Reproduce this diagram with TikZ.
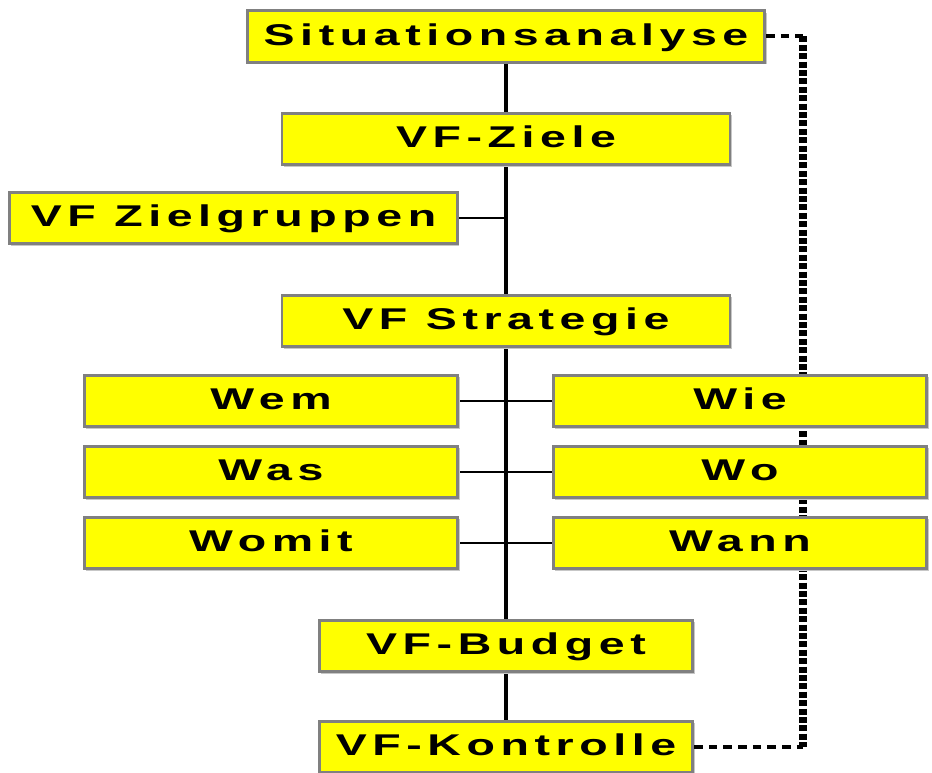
\documentclass[tikz,border=0pt]{standalone}
\usepackage{fontspec}
\newfontfamily\boxfont{Liberation Sans Bold}[LetterSpace=12]
\usetikzlibrary{shadows,backgrounds}
\definecolor{boxgray}{RGB}{128,128,128}
\definecolor{boxfill}{RGB}{255,255,0}
% wide lettering for the box labels
\newcommand\wide[1]{\scalebox{1.55}[1]{#1}}
\tikzset{
  vfbox/.style={draw=boxgray, line width=2.2pt, fill=boxfill, inner sep=0pt,
    minimum height=38.5pt, text height=16.3pt, text depth=3.3pt,
    font=\boxfont\fontsize{22.5}{27}\selectfont,
    drop shadow={shadow xshift=1.4pt, shadow yshift=-1.4pt, fill=black!22, opacity=1}},
  topbox/.style={vfbox, minimum width=388pt},
  midbox/.style={vfbox, minimum width=336pt},
  sidebox/.style={vfbox, minimum width=280pt},
  trunk/.style={line width=3.4pt},
  branch/.style={line width=1.5pt},
  loopflat/.style={line width=3pt, dash pattern=on 6.5pt off 4.5pt},
  loopdown/.style={line width=6pt, dash pattern=on 4.5pt off 1.8pt},
}
\begin{document}
\begin{tikzpicture}[x=0.75pt, y=-0.75pt]
    \useasboundingbox (0,0) rectangle (932,773);

    % main chain
    \node[topbox]  (sit)       at (506,36.5) {\wide{Situationsanalyse}};
    \node[midbox]  (ziele)     at (506,139)  {\wide{VF-Ziele}};
    \node[midbox]  (zielgr)    at (233.5,218) {\wide{VF Zielgruppen}};
    \node[midbox]  (strat)     at (506,321)  {\wide{VF Strategie}};
    \node[sidebox] (budget)    at (506,646)  {\wide{VF-Budget}};
    \node[sidebox] (kontrolle) at (506,747)  {\wide{VF-Kontrolle}};

    % the six W-questions
    \node[sidebox] (wem)   at (271,401) {\wide{Wem}};
    \node[sidebox] (was)   at (271,472) {\wide{Was}};
    \node[sidebox] (womit) at (271,543) {\wide{Womit}};
    \node[sidebox] (wie)   at (740,401) {\wide{Wie}};
    \node[sidebox] (wo)    at (740,472) {\wide{Wo}};
    \node[sidebox] (wann)  at (740,543) {\wide{Wann}};

    % feedback corners
    \coordinate (fbtop) at (803,36.5);
    \coordinate (fbbot) at (803,747);

    \begin{scope}[on background layer]
        \draw[trunk] (sit.south) -- (kontrolle.north); % spine
        \draw[branch] (zielgr.east) -- (zielgr -| ziele);
        \foreach \l/\r in {wem/wie, was/wo, womit/wann}
            \draw[branch] (\l.east) -- (\r.west);
        \draw[loopdown] (fbtop) -- (fbbot); % runs behind the right column
    \end{scope}

    \draw[loopflat] (sit.east) -- (fbtop);
    \draw[loopflat] (kontrolle.east) -- (fbbot);
\end{tikzpicture}
\end{document}
